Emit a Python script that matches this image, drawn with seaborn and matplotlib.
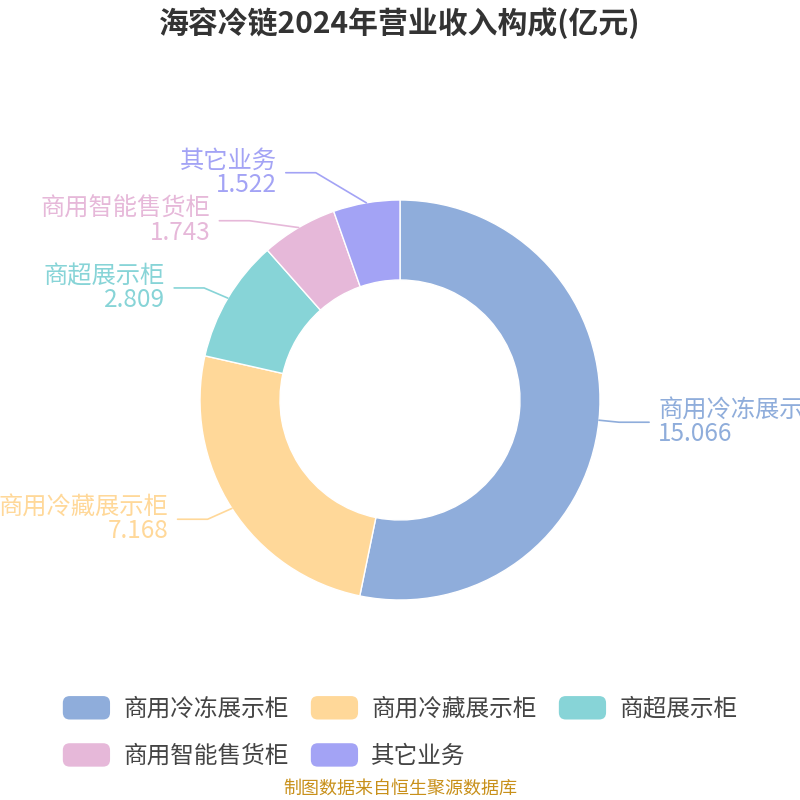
import numpy as np
import seaborn as sns
import matplotlib.pyplot as plt
from matplotlib.patches import FancyBboxPatch
from matplotlib.legend_handler import HandlerPatch

categories = ["商用冷冻展示柜", "商用冷藏展示柜", "商超展示柜", "商用智能售货柜", "其它业务"]
values = [15.066, 7.168, 2.809, 1.743, 1.522]
value_labels = ["15.066", "7.168", "2.809", "1.743", "1.522"]
colors = ["#8FADDB", "#FFD899", "#87D4D7", "#E6B8D9", "#A3A3F5"]
title = "海容冷链2024年营业收入构成(亿元)"
source = "制图数据来自恒生聚源数据库"

sns.set_theme(style="white")
plt.rcParams["font.family"] = ["Noto Sans CJK SC", "DejaVu Sans"]

fig = plt.figure(figsize=(8, 8), dpi=100)
ax = fig.add_axes([0, 0, 1, 1])

cx, cy, r_out, r_in = 400, 400, 200, 120
wedges, _ = ax.pie(values, colors=sns.color_palette(colors), startangle=90,
                   counterclock=False, radius=r_out, center=(cx, cy),
                   wedgeprops=dict(width=r_out - r_in, edgecolor="white", linewidth=1))
ax.set_xlim(0, 800)
ax.set_ylim(0, 800)
ax.set_aspect("equal")
ax.axis("off")

# label layout: radial start, push apart overlapping labels per side
len1, len2, gap = 20, 30, 9
labels = []
for w, name, val, col in zip(wedges, categories, value_labels, colors):
    mid = np.deg2rad((w.theta1 + w.theta2) / 2)
    side = 1 if np.cos(mid) > 0 else -1
    p = (cx + r_out * np.cos(mid), cy + r_out * np.sin(mid))
    ey = cy + (r_out + len1) * np.sin(mid)
    labels.append(dict(side=side, p=p, y=ey, name=name, val=val, col=col))

min_gap = 48
for side in (1, -1):
    grp = sorted([l for l in labels if l["side"] == side], key=lambda l: -l["y"])
    for _ in range(100):
        for a, b in zip(grp[:-1], grp[1:]):
            d = a["y"] - b["y"]
            if d < min_gap:
                a["y"] += (min_gap - d) / 2
                b["y"] -= (min_gap - d) / 2

for l in labels:
    dy = l["y"] - cy
    ex = cx + l["side"] * (r_out + len1) * np.sqrt(max(1 - (dy / 246) ** 2, 0))
    x2 = ex + l["side"] * len2
    ax.plot([l["p"][0], ex, x2], [l["p"][1], l["y"], l["y"]], color=l["col"], lw=1.2)
    ha = "left" if l["side"] > 0 else "right"
    tx = x2 + l["side"] * gap
    ax.text(tx, l["y"] + 12, l["name"], color=l["col"], fontsize=17.5, ha=ha, va="center")
    ax.text(tx, l["y"] - 12, l["val"], color=l["col"], fontsize=17.5, ha=ha, va="center")


class RoundHandler(HandlerPatch):
    def create_artists(self, legend, orig_handle, xdescent, ydescent,
                       width, height, fontsize, trans):
        p = FancyBboxPatch((-xdescent, -ydescent), width, height,
                           boxstyle="round,pad=0,rounding_size=5",
                           facecolor=orig_handle.get_facecolor(), edgecolor="none",
                           transform=trans)
        return [p]


# matplotlib fills legend columns first, reorder for row-major look
order = [0, 3, 1, 4, 2]
handles = [FancyBboxPatch((0, 0), 1, 1, facecolor=colors[i]) for i in order]
leg = ax.legend(handles, [categories[i] for i in order], ncol=3, loc="center",
                bbox_to_anchor=(0.5, 1 - 732 / 800), frameon=False, fontsize=17,
                handlelength=2.0, handleheight=1.15, handletextpad=0.55,
                columnspacing=0.95, labelspacing=0.95,
                handler_map={FancyBboxPatch: RoundHandler()})
for t in leg.get_texts():
    t.set_color("#444444")

fig.text(0.5, 1 - 23 / 800, title, ha="center", va="center", fontsize=21.5,
         fontweight="bold", color="#333333")
fig.text(0.5, 1 - 789 / 800, source, ha="center", va="center", fontsize=13,
         color="#C8901A")

fig.savefig("out.png", dpi=100)
